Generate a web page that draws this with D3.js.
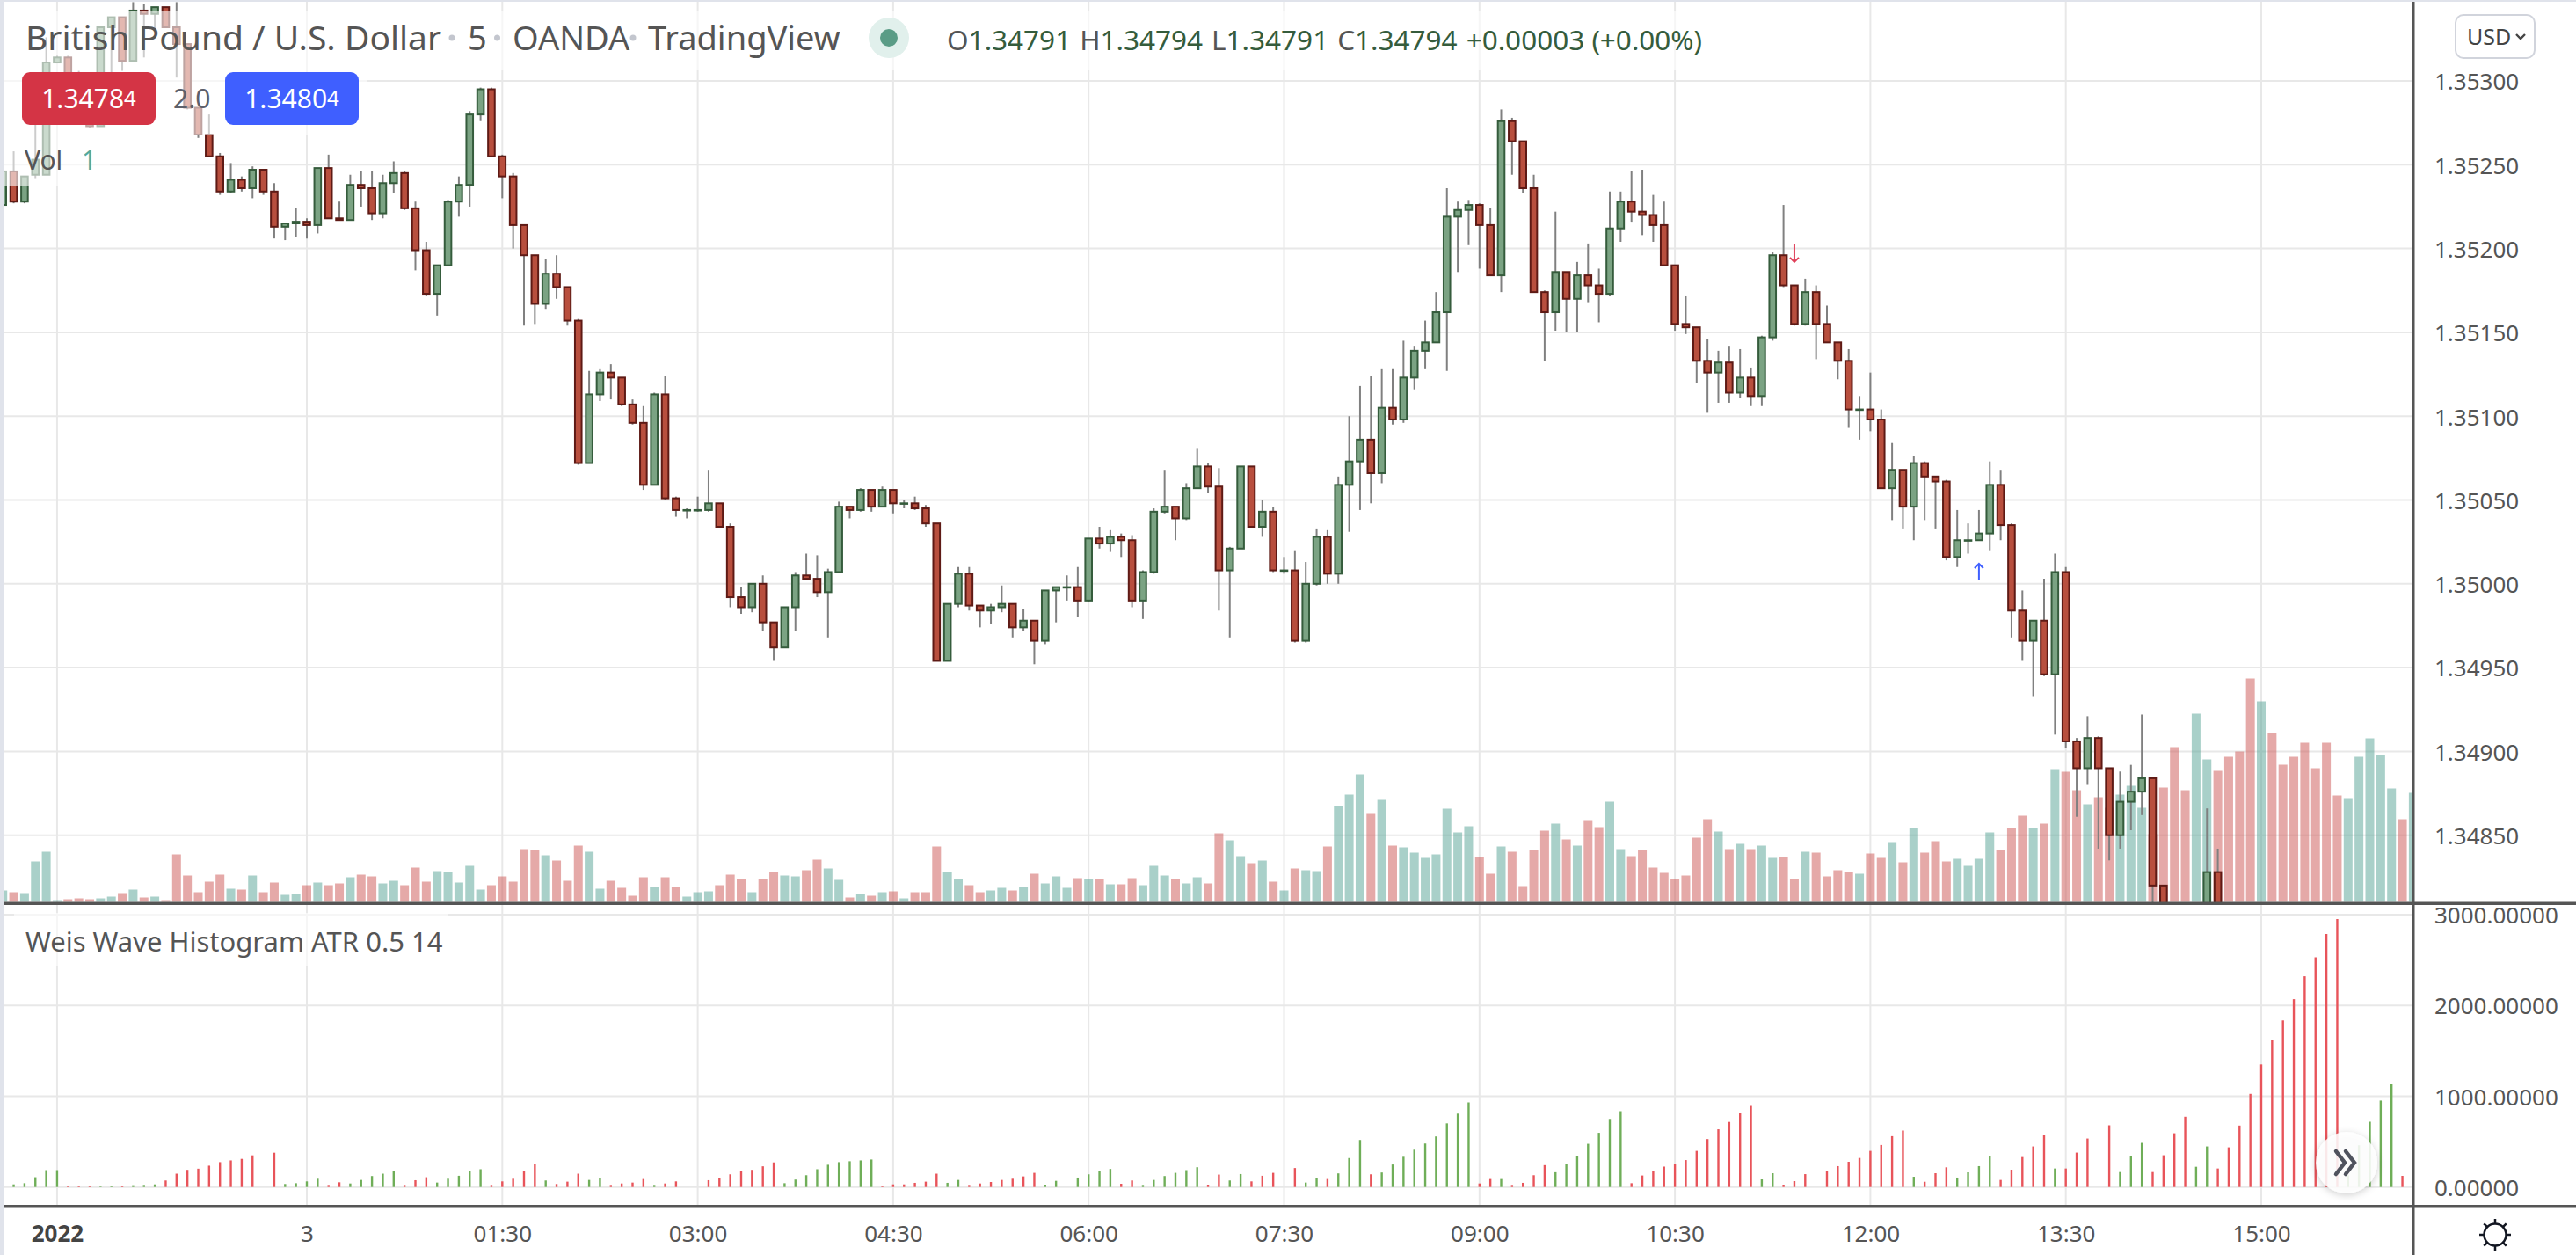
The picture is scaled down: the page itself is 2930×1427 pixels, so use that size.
<!DOCTYPE html>
<html>
<head>
<meta charset="utf-8">
<script src="https://cdnjs.cloudflare.com/ajax/libs/d3/7.8.5/d3.min.js"></script>
<style>
  body { margin: 0; background: #fff; overflow: hidden; }
  text { font-family: "Noto Sans", sans-serif; }
  .tick line { display: none; }
  .domain { display: none; }
</style>
</head>
<body>
<div id="chart"></div>
<script>
// candles. null = bar sits below the bottom of the pane
var opens = [
1.35226,1.35246,1.35228,1.35244,1.35244,1.35311,1.35314,1.35298,1.35289,1.35273,
1.35332,1.35338,1.35312,1.35342,1.35340,1.35344,1.35332,1.35322,1.35284,1.35268,
1.35255,1.35234,1.35241,1.35236,1.35247,1.35234,1.35213,1.35215,1.35216,1.35214,
1.35248,1.35218,1.35217,1.35238,1.35236,1.35221,1.35239,1.35245,1.35224,1.35199,
1.35173,1.35190,1.35228,1.35238,1.35280,1.35295,1.35255,1.35243,1.35214,1.35196,
1.35167,1.35185,1.35177,1.35157,1.35072,1.35113,1.35126,1.35123,1.35107,1.35096,
1.35059,1.35113,1.35051,1.35044,1.35044,1.35044,1.35048,1.35034,1.34992,1.34986,
1.35000,1.34977,1.34962,1.34986,1.35005,1.35003,1.34995,1.35007,1.35046,1.35044,
1.35056,1.35046,1.35056,1.35048,1.35048,1.35045,1.35036,1.34954,1.34988,1.35006,
1.34987,1.34984,1.34986,1.34988,1.34974,1.34978,1.34966,1.34996,1.34998,1.34998,
1.34990,1.35027,1.35024,1.35028,1.35026,1.34990,1.35007,1.35043,1.35046,1.35039,
1.35057,1.35070,1.35058,1.35008,1.35021,1.35070,1.35034,1.35043,1.35008,1.35008,
1.34966,1.35000,1.35028,1.35006,1.35059,1.35073,1.35086,1.35066,1.35105,1.35098,
1.35123,1.35139,1.35144,1.35162,1.35219,1.35223,1.35226,1.35214,1.35184,1.35276,
1.35264,1.35236,1.35174,1.35162,1.35186,1.35170,1.35184,1.35178,1.35173,1.35212,
1.35228,1.35222,1.35220,1.35214,1.35190,1.35155,1.35153,1.35133,1.35126,1.35132,
1.35114,1.35123,1.35112,1.35147,1.35196,1.35178,1.35155,1.35174,1.35155,1.35144,
1.35133,1.35104,1.35104,1.35098,1.35057,1.35068,1.35046,1.35072,1.35064,1.35061,
1.35016,1.35026,1.35026,1.35030,1.35059,1.35035,1.34984,1.34966,1.34978,1.34946,
1.35007,1.34906,1.34890,1.34908,1.34890,1.34850,1.34870,1.34876,1.34884,1.34820,
null,null,null,1.34802,1.34828];
var highs = [
1.35246,1.35258,1.35243,1.35282,1.35326,1.35315,1.35315,1.35306,1.35289,1.35332,
1.35338,1.35338,1.35347,1.35346,1.35344,1.35344,1.35347,1.35322,1.35284,1.35280,
1.35257,1.35251,1.35243,1.35249,1.35247,1.35239,1.35215,1.35224,1.35218,1.35248,
1.35256,1.35228,1.35244,1.35246,1.35246,1.35244,1.35252,1.35246,1.35228,1.35204,
1.35190,1.35229,1.35243,1.35282,1.35296,1.35296,1.35256,1.35245,1.35214,1.35196,
1.35194,1.35196,1.35177,1.35158,1.35127,1.35128,1.35131,1.35123,1.35110,1.35106,
1.35114,1.35124,1.35052,1.35045,1.35052,1.35068,1.35048,1.35036,1.34998,1.35000,
1.35005,1.34977,1.34986,1.35007,1.35018,1.35017,1.35009,1.35049,1.35046,1.35057,
1.35056,1.35058,1.35056,1.35050,1.35052,1.35047,1.35036,1.34988,1.35010,1.35010,
1.34987,1.34988,1.34999,1.34988,1.34985,1.34978,1.34996,1.34998,1.35005,1.35010,
1.35027,1.35034,1.35032,1.35030,1.35029,1.35008,1.35045,1.35068,1.35046,1.35060,
1.35081,1.35072,1.35069,1.35022,1.35070,1.35070,1.35050,1.35046,1.35016,1.35020,
1.35013,1.35033,1.35032,1.35064,1.35100,1.35118,1.35124,1.35128,1.35128,1.35145,
1.35142,1.35157,1.35174,1.35236,1.35228,1.35229,1.35227,1.35224,1.35283,1.35278,
1.35264,1.35244,1.35175,1.35222,1.35186,1.35192,1.35203,1.35188,1.35234,1.35234,
1.35246,1.35247,1.35232,1.35228,1.35190,1.35172,1.35153,1.35146,1.35139,1.35142,
1.35140,1.35129,1.35148,1.35198,1.35226,1.35178,1.35182,1.35178,1.35166,1.35144,
1.35140,1.35112,1.35126,1.35104,1.35084,1.35068,1.35076,1.35073,1.35064,1.35062,
1.35044,1.35036,1.35044,1.35073,1.35068,1.35036,1.34996,1.34978,1.35003,1.35018,
1.35010,1.34908,1.34921,1.34909,1.34890,1.34888,1.34892,1.34922,1.34884,1.34820,
null,null,null,1.34866,1.34842];
var lows = [
1.35225,1.35227,1.35227,1.35242,1.35244,1.35311,1.35297,1.35288,1.35272,1.35273,
1.35305,1.35306,1.35312,1.35314,1.35331,1.35332,1.35302,1.35283,1.35266,1.35255,
1.35232,1.35233,1.35234,1.35230,1.35232,1.35206,1.35205,1.35207,1.35206,1.35209,
1.35218,1.35217,1.35217,1.35225,1.35217,1.35218,1.35233,1.35223,1.35187,1.35172,
1.35160,1.35190,1.35219,1.35225,1.35276,1.35255,1.35230,1.35200,1.35154,1.35155,
1.35164,1.35170,1.35154,1.35071,1.35072,1.35109,1.35110,1.35106,1.35095,1.35056,
1.35059,1.35050,1.35040,1.35039,1.35043,1.35043,1.35034,1.34986,1.34982,1.34983,
1.34972,1.34954,1.34962,1.34972,1.35003,1.34992,1.34968,1.35007,1.35039,1.35043,
1.35043,1.35046,1.35042,1.35045,1.35044,1.35034,1.34954,1.34954,1.34986,1.34984,
1.34974,1.34976,1.34983,1.34968,1.34972,1.34952,1.34964,1.34977,1.34990,1.34980,
1.34989,1.35021,1.35019,1.35016,1.34986,1.34979,1.35006,1.35042,1.35026,1.35038,
1.35057,1.35054,1.34984,1.34968,1.35021,1.35034,1.35028,1.35007,1.35006,1.34965,
1.34965,1.34999,1.35000,1.35000,1.35031,1.35044,1.35048,1.35060,1.35095,1.35096,
1.35116,1.35128,1.35144,1.35127,1.35186,1.35202,1.35188,1.35184,1.35174,1.35244,
1.35233,1.35174,1.35133,1.35151,1.35150,1.35150,1.35168,1.35156,1.35172,1.35204,
1.35216,1.35208,1.35204,1.35190,1.35151,1.35149,1.35120,1.35102,1.35108,1.35108,
1.35111,1.35106,1.35106,1.35145,1.35177,1.35154,1.35154,1.35134,1.35144,1.35122,
1.35093,1.35086,1.35091,1.35057,1.35038,1.35033,1.35026,1.35038,1.35033,1.35014,
1.35010,1.35018,1.35026,1.35020,1.35026,1.34968,1.34954,1.34933,1.34945,1.34910,
1.34902,1.34861,1.34880,1.34842,1.34835,1.34842,1.34853,1.34862,1.34808,1.34795,
null,null,null,1.34800,1.34795];
var closes = [
1.35246,1.35228,1.35243,1.35253,1.35311,1.35314,1.35298,1.35289,1.35273,1.35332,
1.35338,1.35312,1.35342,1.35340,1.35344,1.35332,1.35322,1.35284,1.35268,1.35255,
1.35234,1.35241,1.35236,1.35247,1.35234,1.35213,1.35215,1.35216,1.35214,1.35248,
1.35218,1.35217,1.35238,1.35236,1.35221,1.35239,1.35245,1.35224,1.35199,1.35173,
1.35190,1.35228,1.35238,1.35280,1.35295,1.35255,1.35243,1.35214,1.35196,1.35167,
1.35185,1.35177,1.35157,1.35072,1.35113,1.35126,1.35123,1.35107,1.35096,1.35059,
1.35113,1.35051,1.35044,1.35044,1.35044,1.35048,1.35034,1.34992,1.34986,1.35000,
1.34977,1.34962,1.34986,1.35005,1.35003,1.34995,1.35007,1.35046,1.35044,1.35056,
1.35046,1.35056,1.35048,1.35048,1.35045,1.35036,1.34954,1.34988,1.35006,1.34987,
1.34984,1.34986,1.34988,1.34974,1.34978,1.34966,1.34996,1.34998,1.34998,1.34990,
1.35027,1.35024,1.35028,1.35026,1.34990,1.35007,1.35043,1.35046,1.35039,1.35057,
1.35070,1.35058,1.35008,1.35021,1.35070,1.35034,1.35043,1.35008,1.35008,1.34966,
1.35000,1.35028,1.35006,1.35059,1.35073,1.35086,1.35066,1.35105,1.35098,1.35123,
1.35139,1.35144,1.35162,1.35219,1.35223,1.35226,1.35214,1.35184,1.35276,1.35264,
1.35236,1.35174,1.35162,1.35186,1.35170,1.35184,1.35178,1.35173,1.35212,1.35228,
1.35222,1.35220,1.35214,1.35190,1.35155,1.35153,1.35133,1.35126,1.35132,1.35114,
1.35123,1.35112,1.35147,1.35196,1.35178,1.35155,1.35174,1.35155,1.35144,1.35133,
1.35104,1.35104,1.35098,1.35057,1.35068,1.35046,1.35072,1.35064,1.35061,1.35016,
1.35026,1.35026,1.35030,1.35059,1.35035,1.34984,1.34966,1.34978,1.34946,1.35007,
1.34906,1.34890,1.34908,1.34890,1.34850,1.34870,1.34876,1.34884,1.34820,1.34802,
null,null,null,1.34828,1.34802];

var volumes = [
13,11,10,46,57,2,3,4,3,4,6,10,14,5,6,2,54,30,11,23,
31,15,14,30,11,22,8,9,19,22,19,21,28,31,29,21,24,19,39,23,
35,34,22,41,14,19,29,23,60,59,53,47,24,64,57,15,24,16,7,28,
17,28,17,6,11,12,19,31,26,11,26,34,30,29,36,48,38,25,5,9,
7,11,12,4,11,11,63,34,26,19,11,13,16,13,17,32,21,29,16,27,
26,26,20,20,27,19,41,30,26,21,28,21,78,70,52,44,47,23,13,38,
36,35,63,109,122,145,101,116,64,62,56,50,54,106,79,86,51,32,63,57,
18,59,81,89,71,64,93,85,114,60,52,59,39,33,26,30,73,94,80,60,
66,60,64,50,51,26,57,56,29,36,34,32,55,50,68,45,84,56,69,46,
49,41,49,79,59,84,98,84,89,151,148,127,111,119,107,122,132,107,77,130,
176,127,214,162,149,165,171,254,228,192,156,165,181,152,181,121,118,165,186,167,
129,94,124];
var volumeUp = [
1,0,1,1,1,1,0,0,0,1,1,0,1,0,1,0,0,0,0,0,
0,1,0,1,0,0,1,1,0,1,0,0,1,0,0,1,1,0,0,0,
1,1,1,1,1,0,0,0,0,0,1,0,0,0,1,1,0,0,0,0,
1,0,0,1,1,1,0,0,0,1,0,0,1,1,0,0,1,1,0,1,
0,1,0,1,0,0,0,1,1,0,0,1,1,0,1,0,1,1,1,0,
1,0,1,0,0,1,1,1,0,1,1,0,0,1,1,0,1,0,1,0,
1,1,0,1,1,1,0,1,0,1,1,1,1,1,1,1,0,0,1,0,
0,0,0,1,0,1,0,0,1,1,0,0,0,0,0,0,0,0,1,0,
1,0,1,1,0,0,1,0,0,0,0,1,0,0,1,0,1,0,0,0,
1,1,1,1,0,0,0,1,0,1,0,0,1,0,0,1,1,1,0,0,
0,0,1,1,0,0,0,0,1,0,0,0,0,0,0,0,1,1,1,1,
1,0,1];

var weisValues = [
0,29,42,108,186,186,10,13,16,6,13,16,20,23,29,72,147,189,202,235,
274,293,310,349,0,378,33,42,62,91,23,52,39,78,121,147,176,23,75,108,
49,91,124,176,196,23,62,91,176,254,72,33,59,147,78,98,23,39,49,88,
23,39,62,0,0,75,101,140,176,189,228,271,42,82,130,196,245,274,284,293,
303,13,29,29,46,59,147,46,78,23,39,55,78,91,117,156,26,68,0,104,
140,176,199,36,72,23,78,121,156,186,218,26,137,72,143,62,124,156,0,209,
49,98,88,150,319,518,140,160,248,333,411,479,557,701,808,932,39,88,88,23,
46,130,241,163,254,346,476,597,750,835,42,127,179,225,254,297,398,528,636,717,
812,893,84,152,26,65,142,0,181,230,278,320,398,463,560,622,113,58,152,217,
104,162,230,340,78,191,330,447,570,204,204,379,534,0,680,165,340,486,165,350,
592,774,223,447,204,437,677,1026,1350,1622,1835,2069,2321,2531,2787,2952,130,460,719,952,
1133,123,0];
var weisUp = [
1,1,1,1,1,1,0,0,0,1,1,0,1,1,1,0,0,0,0,0,
0,0,0,0,0,0,1,1,1,1,0,0,1,1,1,1,1,0,0,0,
1,1,1,1,1,0,0,0,0,0,1,0,0,0,1,1,0,0,0,0,
1,0,0,0,0,0,0,0,0,0,0,0,1,1,1,1,1,1,1,1,
1,0,0,0,0,0,0,1,1,0,0,0,0,0,0,0,1,1,0,1,
1,1,1,0,0,1,1,1,1,1,1,0,0,1,1,0,0,0,0,0,
1,1,0,1,1,1,0,1,1,1,1,1,1,1,1,1,0,0,1,0,
0,0,0,1,1,1,1,1,1,1,0,0,0,0,0,0,0,0,0,0,
0,0,1,1,0,0,0,0,0,0,0,0,0,0,0,0,1,0,0,0,
1,1,1,1,0,0,0,0,0,1,0,0,0,0,0,1,1,1,0,0,
0,0,1,1,0,0,0,0,0,0,0,0,0,0,0,0,1,1,1,1,
1,0,0];

var priceTicks = [1.353,1.3525,1.352,1.3515,1.351,1.3505,1.35,1.3495,1.349,1.3485];
var weisTicks = [0,1000,2000,3000];
var timeBars = [5,28,46,64,82,100,118,136,154,172,190,208];
var timeLabels = ["2022","3","01:30","03:00","04:30","06:00","07:30","09:00","10:30","12:00","13:30","15:00"];

// down / up arrow marks: bar, tail price, tip price
var arrowBars = [165,182];
var arrowTails = [1.35203,1.35002];
var arrowTips = [1.35192,1.35012];

var svgWidth = 2930;
var svgHeight = 1427;
var chartLeft = 5;
var chartTop = 2;
var axisX = 2745;
var paneBottom = 1026;
var weisBottom = 1371;

var red = "#b84f3e", redDark = "#5e1a15";
var green = "#7ba383", greenDark = "#355c3c";

var svg = d3.select("#chart").append("svg")
  .attr("width", svgWidth)
  .attr("height", svgHeight)
  .style("display", "block");

svg.append("rect").attr("width", svgWidth).attr("height", svgHeight).attr("fill", "#e0e3eb");
svg.append("rect").attr("x", chartLeft).attr("y", chartTop)
  .attr("width", svgWidth - chartLeft).attr("height", svgHeight - chartTop).attr("fill", "#fff");

var x = d3.scaleLinear().domain([0, 222]).range([3.2, 2744.9]);
var yPrice = d3.scaleLinear().domain([1.3485, 1.353]).range([949.7, 92]);
var yVolume = d3.scaleLinear().domain([0, 300]).range([1025.5, 725.5]);
var yWeis = d3.scaleLinear().domain([0, 3000]).range([1349.7, 1040]);

var defs = svg.append("defs");
defs.append("clipPath").attr("id", "priceClip").append("rect")
  .attr("x", chartLeft).attr("y", chartTop).attr("width", axisX - chartLeft).attr("height", paneBottom - chartTop);
defs.append("clipPath").attr("id", "weisClip").append("rect")
  .attr("x", chartLeft).attr("y", paneBottom).attr("width", axisX - chartLeft).attr("height", weisBottom - paneBottom);
var shadow = defs.append("filter").attr("id", "btnShadow")
  .attr("x", "-30%").attr("y", "-30%").attr("width", "160%").attr("height", "160%");
shadow.append("feDropShadow").attr("dx", 0).attr("dy", 2).attr("stdDeviation", 4)
  .attr("flood-color", "#000").attr("flood-opacity", 0.22);

// grid
var grid = svg.append("g").attr("stroke", "#e8e8e8").attr("stroke-width", 2);
grid.selectAll(".v").data(timeBars).enter().append("line")
  .attr("x1", d => x(d)).attr("x2", d => x(d))
  .attr("y1", chartTop).attr("y2", weisBottom);
grid.selectAll(".p").data(priceTicks).enter().append("line")
  .attr("x1", chartLeft).attr("x2", axisX)
  .attr("y1", d => yPrice(d)).attr("y2", d => yPrice(d));
grid.selectAll(".w").data(weisTicks).enter().append("line")
  .attr("x1", chartLeft).attr("x2", axisX)
  .attr("y1", d => yWeis(d)).attr("y2", d => yWeis(d));

var pricePane = svg.append("g").attr("clip-path", "url(#priceClip)");

// volume
pricePane.append("g").selectAll("rect").data(volumes).enter().append("rect")
  .attr("x", (d, i) => x(i) - 5)
  .attr("width", 10)
  .attr("y", d => yVolume(d))
  .attr("height", d => yVolume(0) - yVolume(d))
  .attr("fill", (d, i) => volumeUp[i] ? "rgb(84,161,148)" : "rgb(204,84,82)")
  .attr("fill-opacity", 0.5);

// candles
var candleIdx = d3.range(opens.length).filter(i => opens[i] !== null);
var candles = pricePane.append("g").selectAll("g").data(candleIdx).enter().append("g");
candles.append("line")
  .attr("x1", i => x(i)).attr("x2", i => x(i))
  .attr("y1", i => yPrice(highs[i])).attr("y2", i => yPrice(lows[i]))
  .attr("stroke", "#808080").attr("stroke-width", 2);
candles.append("rect")
  .attr("x", i => x(i) - 3.8)
  .attr("width", 7.6)
  .attr("y", i => yPrice(Math.max(opens[i], closes[i])))
  .attr("height", i => Math.max(0.6, Math.abs(yPrice(opens[i]) - yPrice(closes[i]))))
  .attr("fill", i => closes[i] >= opens[i] ? green : red)
  .attr("stroke", i => closes[i] >= opens[i] ? greenDark : redDark)
  .attr("stroke-width", 2);

// arrows
var arrowColor = ["#e0405a", "#3f5fff"];
pricePane.append("g").selectAll("path").data(arrowBars).enter().append("path")
  .attr("fill", "none").attr("stroke-width", 2)
  .attr("stroke", (d, i) => arrowColor[i])
  .attr("d", function(d, i) {
    var px = x(d), tip = yPrice(arrowTips[i]), tail = yPrice(arrowTails[i]);
    var s = tip > tail ? -1 : 1;
    return "M" + px + "," + tail + "L" + px + "," + tip
      + "M" + (px - 5) + "," + (tip + s * 5) + "L" + px + "," + tip + "L" + (px + 5) + "," + (tip + s * 5);
  });

// weis wave histogram
var weisPane = svg.append("g").attr("clip-path", "url(#weisClip)");
weisPane.selectAll("line").data(d3.range(weisValues.length).filter(i => weisValues[i] > 0)).enter().append("line")
  .attr("x1", i => x(i)).attr("x2", i => x(i))
  .attr("y1", yWeis(0)).attr("y2", i => yWeis(weisValues[i]))
  .attr("stroke", i => weisUp[i] ? "#6fae58" : "#e8545a")
  .attr("stroke-width", 2.4);

// translucent backing behind the legends
var veil = svg.append("g").attr("fill", "#fff").attr("fill-opacity", 0.6);
veil.append("rect").attr("x", chartLeft).attr("y", 12).attr("width", 1960).attr("height", 68);
veil.append("rect").attr("x", chartLeft).attr("y", 80).attr("width", 412).attr("height", 74);
veil.append("rect").attr("x", chartLeft).attr("y", 154).attr("width", 120).attr("height", 58);
veil.append("rect").attr("x", 16).attr("y", 1038).attr("width", 494).attr("height", 60);

// axes
var priceAxis = svg.append("g").attr("transform", `translate(${axisX},0)`)
  .call(d3.axisRight(yPrice).tickValues(priceTicks).tickSize(0).tickPadding(24).tickFormat(d3.format(".5f")));
var weisAxis = svg.append("g").attr("transform", `translate(${axisX},0)`)
  .call(d3.axisRight(yWeis).tickValues(weisTicks).tickSize(0).tickPadding(24).tickFormat(d3.format(".5f")));
var timeAxis = svg.append("g").attr("transform", `translate(0,${weisBottom})`)
  .call(d3.axisBottom(x).tickValues(timeBars).tickSize(0).tickPadding(23).tickFormat((d, i) => timeLabels[i]));
svg.selectAll(".tick text").attr("font-size", 26).attr("fill", "#555");
priceAxis.selectAll(".tick text").attr("dy", "0.38em");
weisAxis.selectAll(".tick text").attr("dy", "0.37em");
timeAxis.selectAll(".tick text").filter((d, i) => i === 0)
  .attr("font-weight", 700).attr("fill", "#444");

// pane borders
var border = svg.append("g").attr("fill", "#555");
border.append("rect").attr("x", chartLeft).attr("y", paneBottom - 0.5).attr("width", svgWidth).attr("height", 3.5);
border.append("rect").attr("x", chartLeft).attr("y", weisBottom - 1).attr("width", svgWidth).attr("height", 2.5);
border.append("rect").attr("x", axisX - 1).attr("y", chartTop).attr("width", 2.5).attr("height", svgHeight);

// title legend
function label(tx, ty, str, size, fill) {
  return svg.append("text").attr("x", tx).attr("y", ty).attr("font-size", size).attr("fill", fill).text(str);
}
label(29, 57, "British Pound / U.S. Dollar", 39, "#555");
label(532, 57, "5", 38, "#555");
label(583, 57, "OANDA", 38, "#555");
label(737, 57, "TradingView", 38, "#555");
[514, 565.5, 720].forEach(function(cx) {
  svg.append("circle").attr("cx", cx).attr("cy", 43).attr("r", 3.5).attr("fill", "#c3c6ce");
});
svg.append("circle").attr("cx", 1011).attr("cy", 43).attr("r", 23).attr("fill", "#e1f0ec");
svg.append("circle").attr("cx", 1011).attr("cy", 43).attr("r", 10).attr("fill", "#5a9c86");

var ohlc = svg.append("text").attr("x", 1077).attr("y", 57).attr("font-size", 31.5).attr("fill", "#355c3c");
[["O", "1.34791"], ["H", "1.34794"], ["L", "1.34791"], ["C", "1.34794"]].forEach(function(p, i) {
  ohlc.append("tspan").attr("fill", "#555").attr("dx", i ? 10 : 0).text(p[0]);
  ohlc.append("tspan").text(p[1]);
});
ohlc.append("tspan").attr("dx", 10).text("+0.00003 (+0.00%)");

// sell / buy badges
function badge(bx, fill, price, small) {
  svg.append("rect").attr("x", bx).attr("y", 82).attr("width", 152).attr("height", 60).attr("rx", 9).attr("fill", fill);
  var t = svg.append("text").attr("x", bx + 76).attr("y", 123).attr("text-anchor", "middle")
    .attr("font-size", 30).attr("fill", "#fff");
  t.append("tspan").text(price);
  t.append("tspan").attr("font-size", 24).attr("dy", -3).text(small);
}
badge(25, "#d43445", "1.3478", "4");
badge(256, "#3f5fff", "1.3480", "4");
label(197, 123, "2.0", 30, "#5d606b");

label(28, 193, "Vol", 30, "#555");
label(93, 193, "1", 30, "#55a99c");
label(29, 1082, "Weis Wave Histogram ATR 0.5 14", 31, "#555");

// currency button
svg.append("rect").attr("x", 2793).attr("y", 17).attr("width", 90).attr("height", 49).attr("rx", 9)
  .attr("fill", "#fff").attr("stroke", "#d1d4dc").attr("stroke-width", 2);
label(2806, 51, "USD", 25, "#444");
svg.append("path").attr("d", "M2862,39l5,5l5,-5").attr("fill", "none").attr("stroke", "#444").attr("stroke-width", 2.4);

// scroll to latest button
svg.append("circle").attr("cx", 2669).attr("cy", 1322).attr("r", 35)
  .attr("fill", "#fff").attr("fill-opacity", 0.86).attr("filter", "url(#btnShadow)");
svg.append("path").attr("d", "M2657,1309l10,13l-10,13M2668,1309l10,13l-10,13")
  .attr("fill", "none").attr("stroke", "#50535e").attr("stroke-width", 4.5).attr("stroke-linecap", "round");

// theme (sun) icon
var sun = svg.append("g").attr("transform", "translate(2838,1404)")
  .attr("fill", "none").attr("stroke", "#131722").attr("stroke-width", 2.5);
sun.append("circle").attr("r", 12.5);
d3.range(8).forEach(function(k) {
  var a = k * Math.PI / 4;
  sun.append("line")
    .attr("x1", 12.5 * Math.sin(a)).attr("y1", -12.5 * Math.cos(a))
    .attr("x2", 18 * Math.sin(a)).attr("y2", -18 * Math.cos(a));
});
</script>
</body>
</html>
